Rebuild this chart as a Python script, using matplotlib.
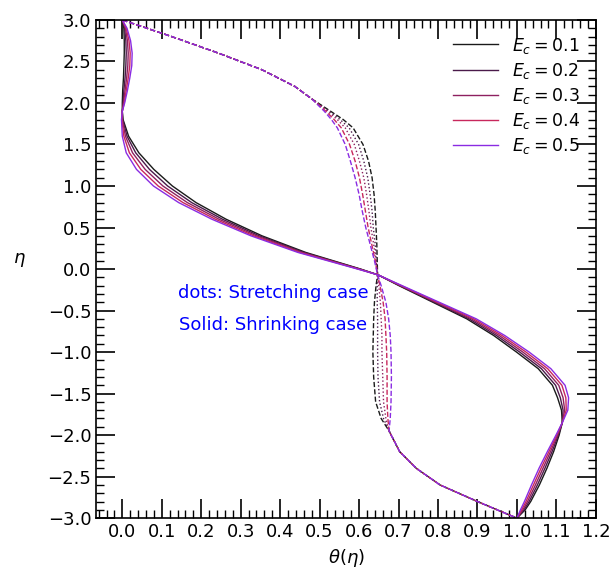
import matplotlib
matplotlib.use("Agg")
import matplotlib.pyplot as plt
from matplotlib.ticker import MultipleLocator

# Ec values and colours
ec_values = [0.1, 0.2, 0.3, 0.4, 0.5]
colors = ['#1a1a1a', '#4a1a4a', '#8e2060', '#c8285c', '#8a2be2']
dash_styles = ['--', ':', ':', '--', '--']

# shrinking case (solid)
eta_shrink = [3.0, 2.9, 2.75, 2.6, 2.45, 2.3, 2.15, 2.0, 1.9, 1.8, 1.6, 1.4, 1.2, 1.0,
              0.8, 0.6, 0.4, 0.2, 0.0, -0.07, -0.2, -0.4, -0.6, -0.8, -1.0, -1.2,
              -1.4, -1.55, -1.7, -1.85, -2.0, -2.2, -2.4, -2.6, -2.8, -2.9, -3.0]
theta_shrink = [
    [0.000, 0.004, 0.005, 0.005, 0.004, 0.003, 0.001, 0.000, 0.000, 0.002, 0.016, 0.042, 0.080, 0.127,
     0.187, 0.263, 0.354, 0.465, 0.604, 0.648, 0.701, 0.787, 0.873, 0.941, 0.999, 1.054,
     1.090, 1.103, 1.113, 1.115, 1.107, 1.093, 1.076, 1.057, 1.035, 1.021, 1.000],
    [0.000, 0.006, 0.009, 0.010, 0.009, 0.007, 0.004, 0.002, 0.000, 0.001, 0.012, 0.034, 0.069, 0.115,
     0.176, 0.254, 0.347, 0.460, 0.602, 0.648, 0.703, 0.791, 0.879, 0.948, 1.007, 1.062,
     1.098, 1.110, 1.117, 1.115, 1.105, 1.089, 1.071, 1.052, 1.031, 1.018, 1.000],
    [0.000, 0.008, 0.013, 0.015, 0.014, 0.011, 0.007, 0.003, 0.000, 0.000, 0.008, 0.026, 0.058, 0.103,
     0.165, 0.245, 0.340, 0.455, 0.600, 0.648, 0.705, 0.795, 0.885, 0.955, 1.015, 1.070,
     1.106, 1.117, 1.121, 1.115, 1.103, 1.085, 1.066, 1.047, 1.027, 1.015, 1.000],
    [0.000, 0.010, 0.017, 0.020, 0.019, 0.015, 0.010, 0.005, 0.000, -0.001, 0.004, 0.018, 0.047, 0.091,
     0.154, 0.236, 0.333, 0.450, 0.598, 0.648, 0.707, 0.799, 0.891, 0.962, 1.023, 1.078,
     1.114, 1.124, 1.125, 1.115, 1.101, 1.081, 1.061, 1.042, 1.023, 1.012, 1.000],
    [0.000, 0.012, 0.021, 0.025, 0.024, 0.019, 0.013, 0.006, 0.000, -0.002, 0.000, 0.010, 0.036, 0.079,
     0.143, 0.227, 0.326, 0.445, 0.596, 0.648, 0.709, 0.803, 0.897, 0.969, 1.031, 1.086,
     1.122, 1.131, 1.129, 1.115, 1.099, 1.077, 1.056, 1.037, 1.019, 1.009, 1.000],
]

# stretching case (dashed / dotted)
eta_stretch = [3.0, 2.8, 2.6, 2.4, 2.2, 2.05, 1.9, 1.8, 1.7, 1.5, 1.3, 1.1, 0.9, 0.7, 0.5,
               0.3, 0.1, -0.07, -0.2, -0.4, -0.6, -0.8, -1.0, -1.3, -1.6, -1.8, -1.95,
               -2.2, -2.4, -2.6, -2.8, -3.0]
theta_stretch = [
    [0.000, 0.125, 0.244, 0.354, 0.437, 0.480, 0.528, 0.560, 0.585, 0.610, 0.624, 0.633, 0.638, 0.641, 0.643,
     0.645, 0.646, 0.647, 0.643, 0.639, 0.637, 0.636, 0.635, 0.637, 0.642, 0.656, 0.676,
     0.703, 0.745, 0.805, 0.900, 1.000],
    [0.000, 0.125, 0.244, 0.354, 0.437, 0.480, 0.524, 0.552, 0.575, 0.599, 0.612, 0.622, 0.628, 0.633, 0.636,
     0.641, 0.644, 0.647, 0.646, 0.646, 0.647, 0.647, 0.647, 0.648, 0.652, 0.662, 0.676,
     0.703, 0.745, 0.805, 0.900, 1.000],
    [0.000, 0.125, 0.244, 0.354, 0.437, 0.480, 0.520, 0.545, 0.565, 0.588, 0.601, 0.612, 0.619, 0.625, 0.630,
     0.637, 0.643, 0.647, 0.650, 0.654, 0.656, 0.658, 0.658, 0.660, 0.662, 0.668, 0.676,
     0.703, 0.745, 0.805, 0.900, 1.000],
    [0.000, 0.125, 0.244, 0.354, 0.437, 0.480, 0.516, 0.537, 0.555, 0.576, 0.590, 0.601, 0.609, 0.616, 0.623,
     0.632, 0.641, 0.647, 0.653, 0.661, 0.666, 0.668, 0.670, 0.671, 0.671, 0.673, 0.676,
     0.703, 0.745, 0.805, 0.900, 1.000],
    [0.000, 0.125, 0.244, 0.354, 0.437, 0.480, 0.512, 0.530, 0.545, 0.565, 0.578, 0.590, 0.600, 0.608, 0.617,
     0.628, 0.639, 0.647, 0.656, 0.668, 0.675, 0.679, 0.681, 0.682, 0.681, 0.679, 0.676,
     0.703, 0.745, 0.805, 0.900, 1.000],
]

fig = plt.figure(figsize=(6.13, 5.70), dpi=100)
ax = fig.add_axes([0.157, 0.091, 0.815, 0.874])

for i, ec in enumerate(ec_values):
    ax.plot(theta_shrink[i], eta_shrink, color=colors[i], linewidth=1.0,
            label=r'$E_c = %.1f$' % ec)
    ax.plot(theta_stretch[i], eta_stretch, color=colors[i], linewidth=1.0,
            linestyle=dash_styles[i])

ax.text(0.382, -0.29, 'dots: Stretching case', color='blue', fontsize=13,
        ha='center', va='center')
ax.text(0.382, -0.67, 'Solid: Shrinking case', color='blue', fontsize=13,
        ha='center', va='center')

ax.set_xlim(-0.066, 1.2)
ax.set_ylim(-3.0, 3.0)
ax.xaxis.set_major_locator(MultipleLocator(0.1))
ax.xaxis.set_minor_locator(MultipleLocator(0.02))
ax.yaxis.set_major_locator(MultipleLocator(0.5))
ax.yaxis.set_minor_locator(MultipleLocator(0.1))
ax.tick_params(which='both', direction='in', top=True, right=True, labelsize=13)
ax.tick_params(which='major', length=14, width=1.2)
ax.tick_params(which='minor', length=6, width=1.0)
for sp in ax.spines.values():
    sp.set_linewidth(1.2)

ax.set_xlabel(r'$\theta(\eta)$', fontsize=13)
ax.set_ylabel(r'$\eta$', fontsize=13, rotation=0, labelpad=20)

ax.legend(loc='upper right', frameon=False, fontsize=12.5, labelspacing=0.3,
          handlelength=2.6)

fig.savefig('out.png', dpi=100)
